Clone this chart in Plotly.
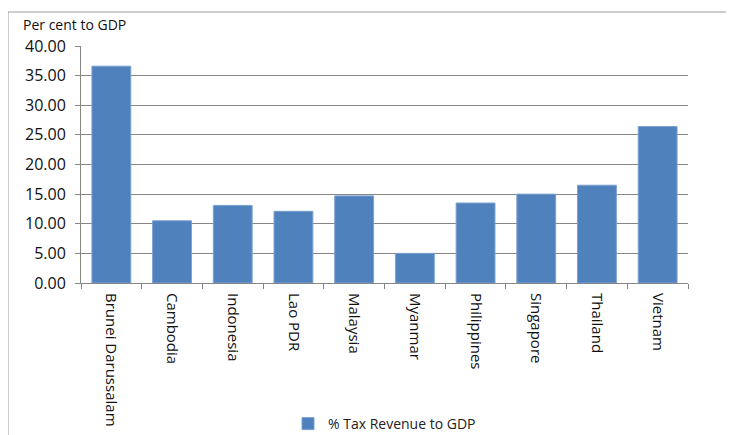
import plotly.graph_objects as go

countries = ["Brunei Darussalam", "Cambodia", "Indonesia", "Lao PDR", "Malaysia",
             "Myanmar", "Philippines", "Singapore", "Thailand", "Vietnam"]
tax_revenue = [36.6, 10.5, 13.1, 12.1, 14.7, 5.0, 13.5, 15.0, 16.5, 26.4]
y_ticks = [0, 5, 10, 15, 20, 25, 30, 35, 40]

OFF = 8  # page body margin
W, H = 734 - OFF, 435 - OFF
# plot area in reference pixels
X0, X1, Y0, Y1 = 81, 688, 46, 283
L, R, T, B = X0 - OFF, W - (X1 - OFF), Y0 - OFF, H - (Y1 - OFF)
pw, ph = W - L - R, H - T - B

def px(x):
    return (x - OFF - L) / pw

def py(y):
    return (H - B - (y - OFF)) / ph

font = "Open Sans, Noto Sans, DejaVu Sans, sans-serif"

fig = go.Figure()
fig.add_trace(go.Bar(
    x=countries, y=tax_revenue, name="% Tax Revenue to GDP",
    marker=dict(color="#4F81BD", line=dict(color="#7ba1d0", width=1)),
))

fig.update_layout(
    width=W, height=H,
    margin=dict(l=L, r=R, t=T, b=B, autoexpand=False),
    paper_bgcolor="white", plot_bgcolor="white",
    bargap=0.36,
    showlegend=True,
    legend=dict(orientation="h", x=0.5, xanchor="center", y=py(424), yanchor="middle",
                itemwidth=30,
                font=dict(family=font, size=14, color="#222")),
    font=dict(family=font, color="#111"),
    xaxis=dict(
        automargin=False,
        tickangle=90, tickfont=dict(family=font, size=15, color="#111"),
        showline=True, linecolor="#868686", linewidth=1,
        ticks="outside", ticklen=5, tickcolor="#868686", tickson="boundaries",
        ticklabelstandoff=6,
        showgrid=False,
    ),
    yaxis=dict(
        automargin=False,
        range=[0, 40], tickvals=y_ticks, tickformat=".2f",
        tickfont=dict(family=font, size=16, color="#111"),
        showline=True, linecolor="#868686", linewidth=1,
        ticks="outside", ticklen=5, tickcolor="#868686",
        ticklabelstandoff=6,
        showgrid=True, gridcolor="#868686", gridwidth=1,
        zeroline=False,
    ),
    annotations=[dict(
        text="Per cent to GDP", xref="paper", yref="paper",
        x=px(21), y=py(25), xanchor="left", yanchor="middle", showarrow=False,
        font=dict(family=font, size=14, color="#111"),
    )],
    shapes=[dict(
        type="rect", xref="paper", yref="paper",
        x0=px(8), x1=px(800), y0=py(500), y1=py(12),
        line=dict(color="#9a9a9a", width=1), layer="below",
    )],
)

fig.write_html("out.html")
